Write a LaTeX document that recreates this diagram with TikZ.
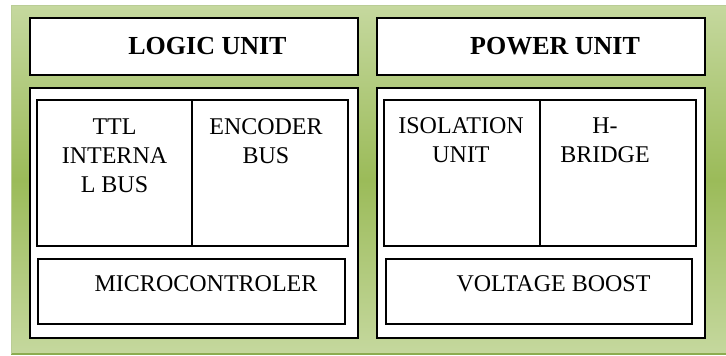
\documentclass[tikz,border=0pt]{standalone}
\usepackage{fontspec}
\setmainfont{Liberation Serif}
\usetikzlibrary{positioning}
\definecolor{greenlight}{RGB}{197,216,158}
\definecolor{greendark}{RGB}{155,187,89}
\definecolor{greenedge}{RGB}{140,172,80}
\tikzset{
  unitbox/.style={
    draw,
    line width=1pt,
    fill=white,
    inner sep=0pt,
    outer sep=0pt
  },
  cellbox/.style={
    unitbox,
    minimum width=78pt,
    minimum height=73pt
  },
  titletext/.style={
    font=\fontsize{13}{15}\selectfont\bfseries,
    anchor=base,
    inner sep=0pt
  },
  celltext/.style={
    font=\fontsize{12}{14.5}\selectfont,
    align=center,
    anchor=north,
    inner sep=0pt
  },
  boxtext/.style={
    font=\fontsize{12}{14.5}\selectfont,
    anchor=base,
    inner sep=0pt
  }
}

\begin{document}
\begin{tikzpicture}[x=0.5pt, y=-0.5pt]
        \useasboundingbox (0,0) rectangle (726,356);
        % green background
        \shade[top color=greenlight, bottom color=greenlight, middle color=greendark] (11,6) rectangle (726,354);
        \draw[greenedge, line width=0.8pt] (11,354) -- (726,354);
        \draw[greenedge!60, line width=0.5pt] (11,354) -- (11,6) -- (726,6);

        % logic unit
        \node[unitbox, minimum width=164pt, minimum height=28.5pt] (logictitle) at (194,46.5) {};
        \node[unitbox, minimum width=164pt, minimum height=125pt] (logicbody) at (194,213) {};
        \node[cellbox, minimum width=77.5pt] (ttl) at (114.5,173) {};
        \node[cellbox, right=0pt of ttl] (encoder) {};
        \node[unitbox, minimum width=153.5pt, minimum height=32.5pt] (micro) at (191.5,291.5) {};

        \node[titletext] (logiclabel) at (207.5,55) {LOGIC UNIT};
        \node[celltext] (ttllabel) at (114.5,118) {TTL\\INTERNA\\L BUS};
        \node[celltext] (encoderlabel) at (266,118) {ENCODER\\BUS};
        \node[boxtext] (microlabel) at (206,292) {MICROCONTROLER};

        % power unit
        \node[unitbox, minimum width=164pt, minimum height=28.5pt] (powertitle) at (541,46.5) {};
        \node[unitbox, minimum width=164pt, minimum height=125pt] (powerbody) at (541,213) {};
        \node[cellbox] (isolation) at (462,173) {};
        \node[cellbox, right=0pt of isolation] (hbridge) {};
        \node[unitbox, minimum width=153pt, minimum height=32.5pt] (boost) at (539,291.5) {};

        \node[titletext] (powerlabel) at (555,55) {POWER UNIT};
        \node[celltext] (isolationlabel) at (461,117) {ISOLATION\\UNIT};
        \node[celltext] (hbridgelabel) at (605,117) {H-\\BRIDGE};
        \node[boxtext] (boostlabel) at (553.5,292) {VOLTAGE BOOST};
      \end{tikzpicture}
\end{document}
